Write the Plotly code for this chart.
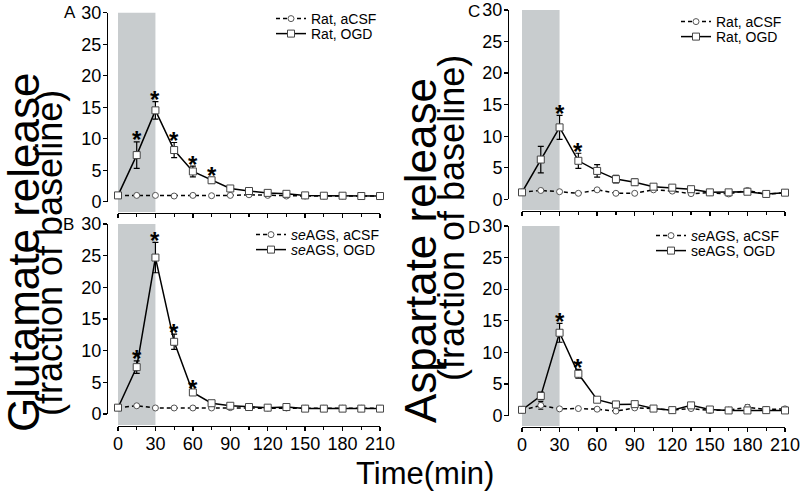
import plotly.graph_objects as go

# ---------------- data ----------------
time_min = [0, 15, 30, 45, 60, 75, 90, 105, 120, 135, 150, 165, 180, 195, 210]
x_ticks = [0, 30, 60, 90, 120, 150, 180, 210]
y_ticks = [0, 5, 10, 15, 20, 25, 30]

# A: Glutamate, Rat
glu_rat_acsf = [1.0, 1.0, 1.0, 0.9, 1.0, 0.95, 1.0, 1.1, 1.0, 0.9, 0.9, 0.9, 0.9, 0.9, 0.9]
glu_rat_acsf_err = [0.1, 0.1, 0.1, 0.1, 0.1, 0.1, 0.1, 0.1, 0.1, 0.1, 0.1, 0.1, 0.1, 0.1, 0.1]
glu_rat_ogd = [1.0, 7.4, 14.5, 8.2, 4.8, 3.4, 2.1, 1.7, 1.4, 1.25, 1.0, 0.95, 0.95, 0.9, 0.9]
glu_rat_ogd_err = [0.1, 2.1, 1.4, 1.2, 0.85, 0.4, 0.2, 0.2, 0.2, 0.15, 0.1, 0.1, 0.1, 0.1, 0.1]
glu_rat_stars = [15, 30, 45, 60, 75]

# B: Glutamate, seAGS
glu_se_acsf = [1.0, 1.3, 0.95, 0.95, 0.95, 0.95, 1.0, 1.0, 0.95, 0.95, 0.9, 0.9, 0.9, 0.9, 0.9]
glu_se_acsf_err = [0.1, 0.15, 0.1, 0.1, 0.1, 0.1, 0.1, 0.1, 0.1, 0.1, 0.1, 0.1, 0.1, 0.1, 0.1]
glu_se_ogd = [1.0, 7.4, 24.7, 11.4, 3.4, 1.7, 1.3, 1.1, 1.0, 1.1, 0.85, 0.85, 0.85, 0.85, 0.85]
glu_se_ogd_err = [0.1, 1.0, 2.4, 1.2, 0.3, 0.2, 0.2, 0.1, 0.1, 0.1, 0.1, 0.1, 0.1, 0.1, 0.1]
glu_se_stars = [15, 30, 45, 60]

# C: Aspartate, Rat
asp_rat_acsf = [1.15, 1.4, 1.2, 0.95, 1.5, 0.95, 0.95, 1.5, 1.3, 0.9, 1.05, 0.85, 1.4, 0.8, 1.05]
asp_rat_acsf_err = [0.1, 0.15, 0.1, 0.1, 0.2, 0.1, 0.1, 0.2, 0.2, 0.1, 0.1, 0.1, 0.2, 0.1, 0.1]
asp_rat_ogd = [1.1, 6.3, 11.4, 6.1, 4.5, 3.2, 2.7, 2.0, 1.85, 1.6, 1.1, 1.1, 1.2, 0.85, 1.05]
asp_rat_ogd_err = [0.1, 2.1, 1.9, 1.2, 1.0, 0.6, 0.5, 0.3, 0.3, 0.3, 0.2, 0.2, 0.2, 0.2, 0.1]
asp_rat_stars = [30, 45]

# D: Aspartate, seAGS
asp_se_acsf = [0.85, 1.6, 1.05, 1.1, 1.0, 0.7, 1.2, 1.1, 0.85, 1.1, 0.8, 0.85, 1.3, 0.95, 1.05]
asp_se_acsf_err = [0.1, 0.6, 0.1, 0.1, 0.1, 0.1, 0.2, 0.1, 0.1, 0.1, 0.1, 0.1, 0.4, 0.1, 0.1]
asp_se_ogd = [0.9, 3.1, 13.1, 6.6, 2.5, 1.75, 1.8, 1.1, 0.85, 1.6, 0.95, 0.8, 0.8, 0.85, 0.8]
asp_se_ogd_err = [0.1, 0.6, 1.5, 0.7, 0.2, 0.2, 0.4, 0.2, 0.1, 0.2, 0.1, 0.1, 0.1, 0.1, 0.1]
asp_se_stars = [30, 45]

# ---------------- layout helpers (pixels) ----------------
W, H = 800, 494
FONT = "Liberation Sans, Arial, sans-serif"


def fx(p):
    return p / W


def fy(p):
    return 1 - p / H


panels = [
    dict(key="A", xd=(118, 380), yd=(12.7, 201.7), yline=107, xline=213, xlab=False,
         acsf=(glu_rat_acsf, glu_rat_acsf_err), ogd=(glu_rat_ogd, glu_rat_ogd_err), stars=glu_rat_stars,
         names=("Rat, aCSF", "Rat, OGD"), legx=313, rows=(19, 34), lx=70, ly=13),
    dict(key="B", xd=(118, 380), yd=(224, 414), yline=107, xline=426, xlab=True,
         acsf=(glu_se_acsf, glu_se_acsf_err), ogd=(glu_se_ogd, glu_se_ogd_err), stars=glu_se_stars,
         names=("<i>se</i>AGS, aCSF", "<i>se</i>AGS, OGD"), legx=293, rows=(235, 250), lx=68, ly=224),
    dict(key="C", xd=(522, 785), yd=(10, 199.3), yline=508, xline=211, xlab=False,
         acsf=(asp_rat_acsf, asp_rat_acsf_err), ogd=(asp_rat_ogd, asp_rat_ogd_err), stars=asp_rat_stars,
         names=("Rat, aCSF", "Rat, OGD"), legx=718, rows=(22, 37), lx=474, ly=11),
    dict(key="D", xd=(522, 785), yd=(226, 415.5), yline=508, xline=427, xlab=True,
         acsf=(asp_se_acsf, asp_se_acsf_err), ogd=(asp_se_ogd, asp_se_ogd_err), stars=asp_se_stars,
         names=("<i>se</i>AGS, aCSF", "seAGS, OGD"), legx=693, rows=(236, 251), lx=474, ly=227),
]

fig = go.Figure()
layout = dict(
    width=W, height=H, margin=dict(l=0, r=0, t=0, b=0, pad=0, autoexpand=False),
    paper_bgcolor="white", plot_bgcolor="rgba(0,0,0,0)",
    font=dict(family=FONT, size=18, color="black"),
    showlegend=True,
)
shapes = []
annotations = []
legend_count = 0


def next_legend():
    global legend_count
    legend_count += 1
    return "legend" if legend_count == 1 else f"legend{legend_count}"


for i, p in enumerate(panels):
    n = i + 1
    xa = "xaxis" if n == 1 else f"xaxis{n}"
    ya = "yaxis" if n == 1 else f"yaxis{n}"
    xr = "x" if n == 1 else f"x{n}"
    yr = "y" if n == 1 else f"y{n}"

    layout[xa] = dict(
        domain=[fx(p["xd"][0]), fx(p["xd"][1])], range=[0, 210],
        anchor="free", position=fy(p["xline"]),
        showline=True, linecolor="black", linewidth=1.3,
        ticks="outside", ticklen=4, tickwidth=1.3, tickcolor="black",
        tickvals=x_ticks, showticklabels=p["xlab"], ticklabeloverflow="allow",
        ticklabelstandoff=-3,
        tickfont=dict(size=18, family=FONT),
        minor=dict(dtick=15, tick0=0, ticks="outside", ticklen=3, tickwidth=1.2, tickcolor="black"),
        showgrid=False, zeroline=False, fixedrange=True, automargin=False,
    )
    layout[ya] = dict(
        domain=[fy(p["yd"][1]), fy(p["yd"][0])], range=[0, 30],
        anchor="free", position=fx(p["yline"]),
        showline=True, linecolor="black", linewidth=1.3,
        ticks="outside", ticklen=4, tickwidth=1.3, tickcolor="black",
        tickvals=y_ticks, tickfont=dict(size=18, family=FONT), ticklabeloverflow="allow",
        ticklabelstandoff=-2,
        showgrid=False, zeroline=False, fixedrange=True, automargin=False,
    )

    shapes.append(dict(
        type="rect", xref=xr, yref="paper", x0=0, x1=30,
        y0=fy(p["xline"] - 1), y1=fy(p["yd"][0]),
        fillcolor="#c8ccce", line=dict(width=0), layer="below",
    ))

    a_vals, a_err = p["acsf"]
    o_vals, o_err = p["ogd"]
    lg1 = next_legend()
    lg2 = next_legend()
    fig.add_trace(go.Scatter(
        x=time_min, y=a_vals, name=p["names"][0], xaxis=xr, yaxis=yr, legend=lg1,
        mode="lines+markers", cliponaxis=False,
        line=dict(color="black", width=1.5, dash="4px,3px"),
        marker=dict(symbol="circle", size=6, color="white", line=dict(color="#555555", width=1)),
        error_y=dict(type="data", array=a_err, color="black", thickness=1.1, width=2.5),
    ))
    fig.add_trace(go.Scatter(
        x=time_min, y=o_vals, name=p["names"][1], xaxis=xr, yaxis=yr, legend=lg2,
        mode="lines+markers", cliponaxis=False,
        line=dict(color="black", width=1.5),
        marker=dict(symbol="square", size=7, color="white", line=dict(color="#444444", width=1)),
        error_y=dict(type="data", array=o_err, color="black", thickness=1.2, width=3),
    ))
    for lg, row in ((lg1, p["rows"][0]), (lg2, p["rows"][1])):
        layout[lg] = dict(
            x=fx(p["legx"] - 42), y=fy(row), xanchor="left", yanchor="middle",
            bgcolor="rgba(0,0,0,0)", borderwidth=0, itemwidth=30,
            font=dict(size=14, family=FONT, color="black"),
        )

    for t in p["stars"]:
        k = time_min.index(t)
        annotations.append(dict(
            x=t, y=o_vals[k] + o_err[k], xref=xr, yref=yr, text="<b>*</b>",
            showarrow=False, xanchor="center", yanchor="middle", yshift=2,
            font=dict(size=24, family=FONT, color="black"),
        ))

    annotations.append(dict(
        x=fx(p["lx"]), y=fy(p["ly"]), xref="paper", yref="paper", text=p["key"],
        showarrow=False, xanchor="center", yanchor="middle",
        font=dict(size=17, family=FONT, color="black"),
    ))

annotations += [
    dict(x=fx(23), y=fy(252), xref="paper", yref="paper", text="Glutamate release",
         textangle=-90, showarrow=False, xanchor="center", yanchor="middle",
         font=dict(size=44, family=FONT)),
    dict(x=fx(49), y=fy(253), xref="paper", yref="paper", text="(fraction of baseline)",
         textangle=-90, showarrow=False, xanchor="center", yanchor="middle",
         font=dict(size=36, family=FONT)),
    dict(x=fx(421), y=fy(251), xref="paper", yref="paper", text="Aspartate release",
         textangle=-90, showarrow=False, xanchor="center", yanchor="middle",
         font=dict(size=44, family=FONT)),
    dict(x=fx(451), y=fy(218), xref="paper", yref="paper", text="(fraction of baseline)",
         textangle=-90, showarrow=False, xanchor="center", yanchor="middle",
         font=dict(size=36, family=FONT)),
    dict(x=fx(425), y=fy(473), xref="paper", yref="paper", text="Time(min)",
         showarrow=False, xanchor="center", yanchor="middle",
         font=dict(size=31, family=FONT)),
]

layout["shapes"] = shapes
layout["annotations"] = annotations
fig.update_layout(**layout)
fig.write_html(
    "out.html",
    config={"displayModeBar": False, "staticPlot": True},
    post_script="document.body.style.margin='0px';document.body.style.overflow='hidden';",
)
